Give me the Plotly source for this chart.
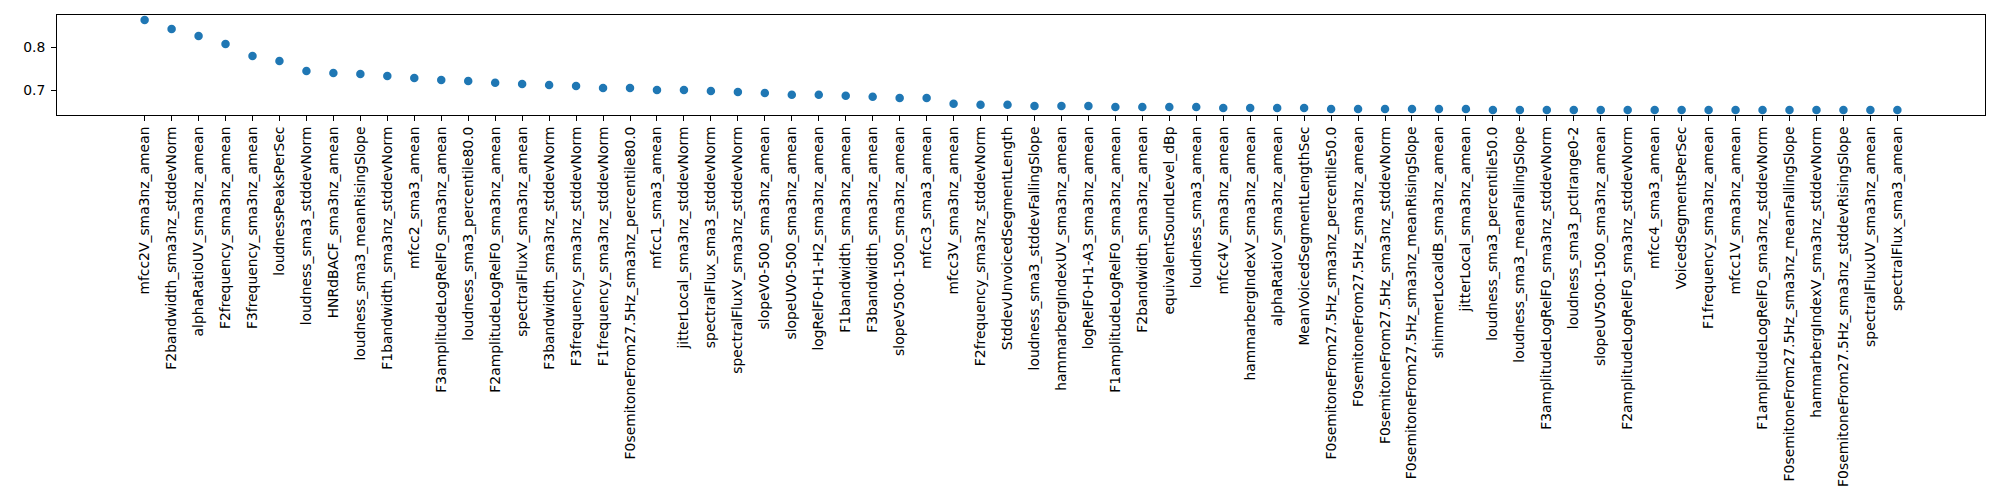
import plotly.graph_objects as go

features = [
    "mfcc2V_sma3nz_amean", "F2bandwidth_sma3nz_stddevNorm", "alphaRatioUV_sma3nz_amean",
    "F2frequency_sma3nz_amean", "F3frequency_sma3nz_amean", "loudnessPeaksPerSec",
    "loudness_sma3_stddevNorm", "HNRdBACF_sma3nz_amean", "loudness_sma3_meanRisingSlope",
    "F1bandwidth_sma3nz_stddevNorm", "mfcc2_sma3_amean", "F3amplitudeLogRelF0_sma3nz_amean",
    "loudness_sma3_percentile80.0", "F2amplitudeLogRelF0_sma3nz_amean", "spectralFluxV_sma3nz_amean",
    "F3bandwidth_sma3nz_stddevNorm", "F3frequency_sma3nz_stddevNorm", "F1frequency_sma3nz_stddevNorm",
    "F0semitoneFrom27.5Hz_sma3nz_percentile80.0", "mfcc1_sma3_amean", "jitterLocal_sma3nz_stddevNorm",
    "spectralFlux_sma3_stddevNorm", "spectralFluxV_sma3nz_stddevNorm", "slopeV0-500_sma3nz_amean",
    "slopeUV0-500_sma3nz_amean", "logRelF0-H1-H2_sma3nz_amean", "F1bandwidth_sma3nz_amean",
    "F3bandwidth_sma3nz_amean", "slopeV500-1500_sma3nz_amean", "mfcc3_sma3_amean",
    "mfcc3V_sma3nz_amean", "F2frequency_sma3nz_stddevNorm", "StddevUnvoicedSegmentLength",
    "loudness_sma3_stddevFallingSlope", "hammarbergIndexUV_sma3nz_amean", "logRelF0-H1-A3_sma3nz_amean",
    "F1amplitudeLogRelF0_sma3nz_amean", "F2bandwidth_sma3nz_amean", "equivalentSoundLevel_dBp",
    "loudness_sma3_amean", "mfcc4V_sma3nz_amean", "hammarbergIndexV_sma3nz_amean",
    "alphaRatioV_sma3nz_amean", "MeanVoicedSegmentLengthSec", "F0semitoneFrom27.5Hz_sma3nz_percentile50.0",
    "F0semitoneFrom27.5Hz_sma3nz_amean", "F0semitoneFrom27.5Hz_sma3nz_stddevNorm",
    "F0semitoneFrom27.5Hz_sma3nz_meanRisingSlope", "shimmerLocaldB_sma3nz_amean",
    "jitterLocal_sma3nz_amean", "loudness_sma3_percentile50.0", "loudness_sma3_meanFallingSlope",
    "F3amplitudeLogRelF0_sma3nz_stddevNorm", "loudness_sma3_pctlrange0-2", "slopeUV500-1500_sma3nz_amean",
    "F2amplitudeLogRelF0_sma3nz_stddevNorm", "mfcc4_sma3_amean", "VoicedSegmentsPerSec",
    "F1frequency_sma3nz_amean", "mfcc1V_sma3nz_amean", "F1amplitudeLogRelF0_sma3nz_stddevNorm",
    "F0semitoneFrom27.5Hz_sma3nz_meanFallingSlope", "hammarbergIndexV_sma3nz_stddevNorm",
    "F0semitoneFrom27.5Hz_sma3nz_stddevRisingSlope", "spectralFluxUV_sma3nz_amean", "spectralFlux_sma3_amean",
]

scores = [
    0.8628, 0.8419, 0.8256, 0.8070, 0.7791, 0.7674, 0.7442, 0.7395, 0.7372, 0.7326,
    0.7279, 0.7233, 0.7209, 0.7170, 0.7140, 0.7116, 0.7093, 0.7047, 0.7047, 0.7000,
    0.7000, 0.6977, 0.6953, 0.6930, 0.6891, 0.6891, 0.6868, 0.6845, 0.6814, 0.6814,
    0.6682, 0.6659, 0.6659, 0.6628, 0.6628, 0.6628, 0.6605, 0.6605, 0.6605, 0.6605,
    0.6581, 0.6581, 0.6581, 0.6581, 0.6558, 0.6558, 0.6558, 0.6558, 0.6558, 0.6558,
    0.6535, 0.6535, 0.6535, 0.6535, 0.6535, 0.6535, 0.6535, 0.6535, 0.6535, 0.6535,
    0.6535, 0.6535, 0.6535, 0.6535, 0.6535, 0.6535,
]

yticks = [0.7, 0.8]

fig = go.Figure()
fig.add_trace(go.Scatter(x=features, y=scores, mode='markers',
                         marker=dict(color='#1f77b4', size=8.5, line=dict(width=0))))

font = dict(family='DejaVu Sans', size=13.9, color='black')
n = len(features)
pad = 0.05 * (n - 1)

# page body has an 8px margin, so the figure is drawn 8px smaller and margins shifted
fig.update_layout(width=1992, height=492, plot_bgcolor='white', paper_bgcolor='white',
                  margin=dict(l=49, r=15, t=7, b=385), showlegend=False, font=font)
fig.update_xaxes(type='category', range=[-pad, n - 1 + pad], tickangle=-90, automargin=False,
                 showline=True, mirror=True, linecolor='black', linewidth=1,
                 ticks='outside', ticklen=5, tickwidth=1, tickcolor='black',
                 showgrid=False, zeroline=False, tickfont=font)
fig.update_yaxes(range=[0.6419, 0.8744], tickvals=yticks, ticktext=['0.7', '0.8'], automargin=False,
                 showline=True, mirror=True, linecolor='black', linewidth=1,
                 ticks='outside', ticklen=5, tickwidth=1, tickcolor='black',
                 showgrid=False, zeroline=False, tickfont=font, ticklabelstandoff=3)

fig.write_html("out.html")
